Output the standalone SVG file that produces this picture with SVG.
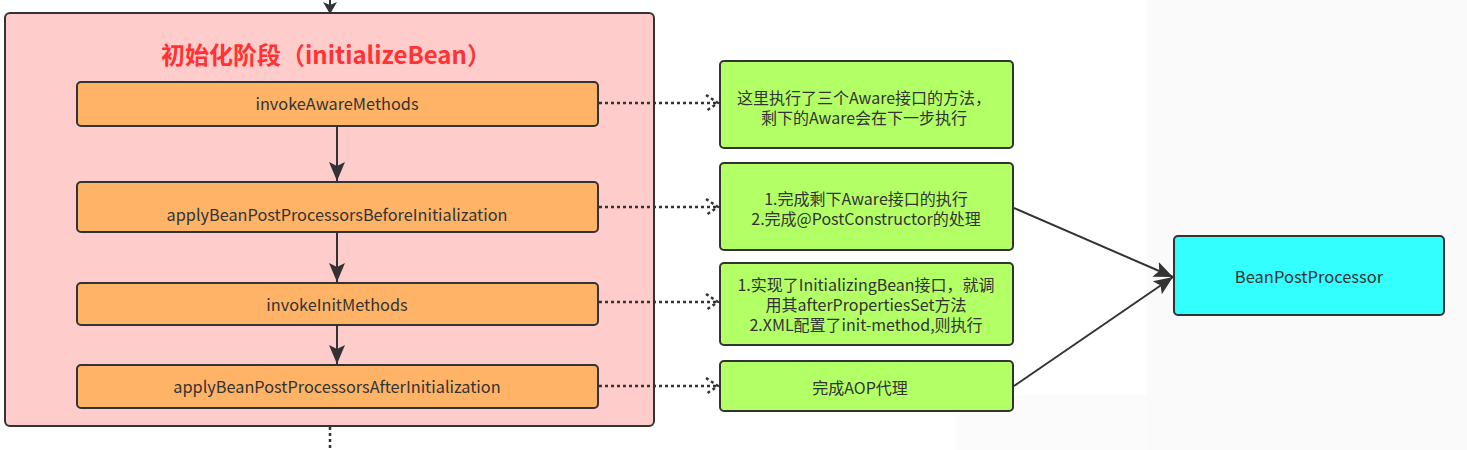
<svg xmlns="http://www.w3.org/2000/svg" width="1467" height="450" viewBox="0 0 1467 450">
<style>
.box{stroke:#333;stroke-width:2}
.t{font-family:"Noto Sans CJK SC","Open Sans",sans-serif;fill:#333;text-anchor:middle}
.o{font-size:16.3px}
.g{font-size:16px}
.solid{stroke:#333;stroke-width:2;fill:none}
.dot{stroke:#333;stroke-width:2.5;fill:none;stroke-dasharray:3 3}
</style>
<defs>
<marker id="ah" markerWidth="12" markerHeight="14" refX="11" refY="7" orient="auto" markerUnits="userSpaceOnUse">
<path d="M0,0 L12,7 L0,14 L3,7 Z" fill="#333"/>
</marker>
<marker id="ah2" markerWidth="20" markerHeight="18" refX="19" refY="9" orient="auto" markerUnits="userSpaceOnUse">
<path d="M0,1 L19,9 L0,17 L4,9 Z" fill="#333"/>
</marker>
<marker id="oh" markerWidth="14" markerHeight="18" refX="13" refY="9" orient="auto" markerUnits="userSpaceOnUse">
<path d="M1,1 L13,9 L1,17" fill="none" stroke="#333" stroke-width="2.5" stroke-dasharray="3 3"/>
</marker>
</defs>
<rect width="1467" height="450" fill="#fff"/>
<rect x="1147" y="0" width="320" height="450" fill="#fafafa"/>
<rect x="955" y="395" width="192" height="55" fill="#fbfbfb"/>
<g id="initializeBean">
<rect x="5" y="13" width="649" height="413" rx="5" fill="#ffcccc" class="box"/>
<text x="326" y="64" font-family="Noto Sans CJK SC,Open Sans,sans-serif" font-size="24" font-weight="bold" fill="#ff3333" text-anchor="middle">初始化阶段（initializeBean）</text>
</g>
<g id="invokeAwareMethods">
<rect x="77" y="82" width="521" height="44" rx="4" fill="#ffb366" class="box"/>
<text x="337" y="110" class="t o">invokeAwareMethods</text>
</g>
<g id="applyBefore">
<rect x="77" y="182" width="521" height="50" rx="4" fill="#ffb366" class="box"/>
<text x="337" y="221" class="t o">applyBeanPostProcessorsBeforeInitialization</text>
</g>
<g id="invokeInitMethods">
<rect x="77" y="283" width="521" height="42" rx="4" fill="#ffb366" class="box"/>
<text x="337" y="311" class="t o">invokeInitMethods</text>
</g>
<g id="applyAfter">
<rect x="77" y="365" width="521" height="43" rx="4" fill="#ffb366" class="box"/>
<text x="337" y="393" class="t o">applyBeanPostProcessorsAfterInitialization</text>
</g>
<g id="note1">
<rect x="720" y="61" width="293" height="87" rx="4" fill="#b3ff66" class="box"/>
<text class="t g"><tspan x="864" y="104">这里执行了三个Aware接口的方法，</tspan><tspan x="864" y="124">剩下的Aware会在下一步执行</tspan></text>
</g>
<g id="note2">
<rect x="720" y="163" width="293" height="87" rx="4" fill="#b3ff66" class="box"/>
<text class="t g"><tspan x="866" y="205">1.完成剩下Aware接口的执行</tspan><tspan x="866" y="225">2.完成@PostConstructor的处理</tspan></text>
</g>
<g id="note3">
<rect x="720" y="263" width="293" height="82" rx="4" fill="#b3ff66" class="box"/>
<text class="t g"><tspan x="866" y="291">1.实现了InitializingBean接口，就调</tspan><tspan x="866" y="311">用其afterPropertiesSet方法</tspan><tspan x="866" y="331">2.XML配置了init-method,则执行</tspan></text>
</g>
<g id="note4">
<rect x="720" y="361" width="293" height="50" rx="4" fill="#b3ff66" class="box"/>
<text x="860" y="394" class="t g">完成AOP代理</text>
</g>
<g id="BeanPostProcessor">
<rect x="1174" y="236" width="270" height="79" rx="4" fill="#33ffff" class="box"/>
<text x="1309" y="283" class="t" font-size="16.5">BeanPostProcessor</text>
</g>
<g id="connectors">
<line x1="330" y1="0" x2="330" y2="13" class="solid" marker-end="url(#ah)"/>
<line x1="330" y1="427" x2="330" y2="450" class="dot"/>
<line x1="337" y1="127" x2="337" y2="181" class="solid" marker-end="url(#ah2)"/>
<line x1="337" y1="233" x2="337" y2="282" class="solid" marker-end="url(#ah2)"/>
<line x1="337" y1="326" x2="337" y2="364" class="solid" marker-end="url(#ah2)"/>
<line x1="599" y1="103" x2="718" y2="103" class="dot" marker-end="url(#oh)"/>
<line x1="599" y1="207" x2="718" y2="207" class="dot" marker-end="url(#oh)"/>
<line x1="599" y1="302" x2="718" y2="302" class="dot" marker-end="url(#oh)"/>
<line x1="599" y1="386" x2="718" y2="386" class="dot" marker-end="url(#oh)"/>
<line x1="1014" y1="208" x2="1173" y2="277" class="solid" marker-end="url(#ah2)"/>
<line x1="1014" y1="386" x2="1173" y2="277" class="solid" marker-end="url(#ah2)"/>
</g>
</svg>
